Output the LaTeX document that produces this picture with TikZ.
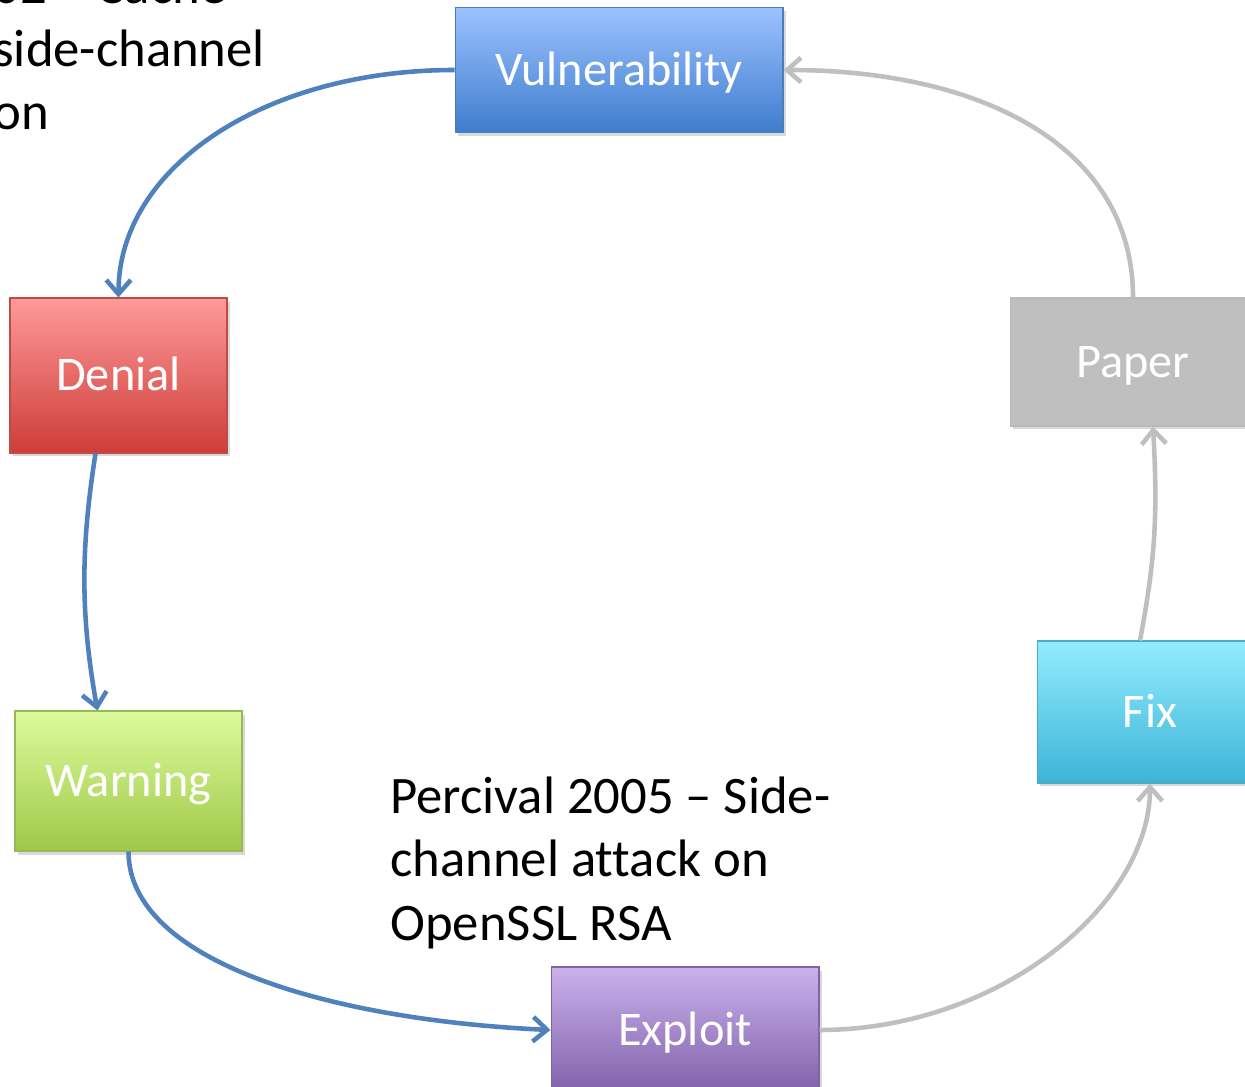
\documentclass[tikz,border=0pt]{standalone}
\usepackage{fontspec}
\setmainfont{Carlito}[Ligatures={TeX,NoCommon}]
\usetikzlibrary{arrows.meta,shadows,calc}
\newcommand\bigtxt{\fontsize{27.5pt}{36pt}\selectfont}
\newcommand\notetxt{\fontsize{30pt}{36pt}\selectfont}

\definecolor{arrowblue}{RGB}{79,129,189}
\definecolor{arrowgray}{RGB}{191,191,191}

\begin{document}
\begin{tikzpicture}[x=0.02cm, y=-0.02cm,
  box/.style={rectangle, draw, line width=0.6pt, text=white, font=\bigtxt,
    text height=17.4pt, text depth=0pt, inner sep=0pt,
    drop shadow={shadow xshift=1.5pt, shadow yshift=-2pt, opacity=0.3}},
  note/.style={anchor=base west, align=left, font=\notetxt, inner sep=0pt},
  bluearr/.style={draw=arrowblue, line width=2.6pt, -{Straight Barb[length=8pt,width=14pt]}},
  grayarr/.style={draw=arrowgray, line width=2.6pt, -{Straight Barb[length=8pt,width=14pt]}}]
\useasboundingbox (0, 0) rectangle (1245, 1087);

% stages of the cycle
\node at (619, 70) [box, minimum width=6.56cm, minimum height=2.5cm,
  top color={rgb,255:red,156;green,194;blue,255}, bottom color={rgb,255:red,62;green,125;blue,205},
  draw={rgb,255:red,74;green,126;blue,187}] (vuln) {Vulnerability};
\node at (118.5, 375.5) [box, minimum width=4.34cm, minimum height=3.1cm,
  top color={rgb,255:red,254;green,154;blue,154}, bottom color={rgb,255:red,206;green,60;blue,56},
  draw={rgb,255:red,190;green,75;blue,72}] (denial) {Denial};
\node at (128.5, 781) [box, minimum width=4.54cm, minimum height=2.8cm,
  top color={rgb,255:red,220;green,251;blue,156}, bottom color={rgb,255:red,160;green,200;blue,72},
  draw={rgb,255:red,152;green,185;blue,84}] (warning) {Warning};
\node at (685, 1030) [box, minimum width=5.36cm, minimum height=2.52cm,
  top color={rgb,255:red,202;green,178;blue,236}, bottom color={rgb,255:red,128;green,96;blue,170},
  draw={rgb,255:red,128;green,100;blue,162}] (exploit) {Exploit};
\node at (1150, 712) [box, minimum width=4.52cm, minimum height=2.84cm,
  top color={rgb,255:red,147;green,236;blue,255}, bottom color={rgb,255:red,60;green,180;blue,215},
  draw={rgb,255:red,75;green,172;blue,198}] (fix) {Fix};
\node at (1133, 362) [box, minimum width=4.92cm, minimum height=2.56cm,
  fill={rgb,255:red,191;green,191;blue,191}, draw={rgb,255:red,185;green,185;blue,185}] (paper) {Paper};

% notes (base = last line)
\node at (-7, 130) [note] (cache) {02 – Cache\\side-channel\\on};
\node at (390, 940) [note] (percival) {Percival 2005 – Side-\\channel attack on\\OpenSSL RSA};

% blue part of the cycle
\draw [bluearr] (vuln.west) .. controls +(-190, 0) and +(0, -130) .. (denial.north);
\draw [bluearr] ($(denial.south)+(-23, 0)$) .. controls +(-14, 90) and +(-18, -100) .. ($(warning.north)+(-31, 0)$);
\draw [bluearr] (warning.south) .. controls +(0, 110) and +(-220, -10) .. (exploit.west);

% gray part of the cycle
\draw [grayarr] (exploit.east) .. controls +(180, 0) and +(0, 120) .. (fix.south);
\draw [grayarr] ($(fix.north)+(-10, 0)$) .. controls +(15, -80) and +(5, 90) .. ($(paper.south)+(20, 0)$);
\draw [grayarr] (paper.north) .. controls +(0, -150) and +(200, 0) .. (vuln.east);
\end{tikzpicture}
\end{document}
